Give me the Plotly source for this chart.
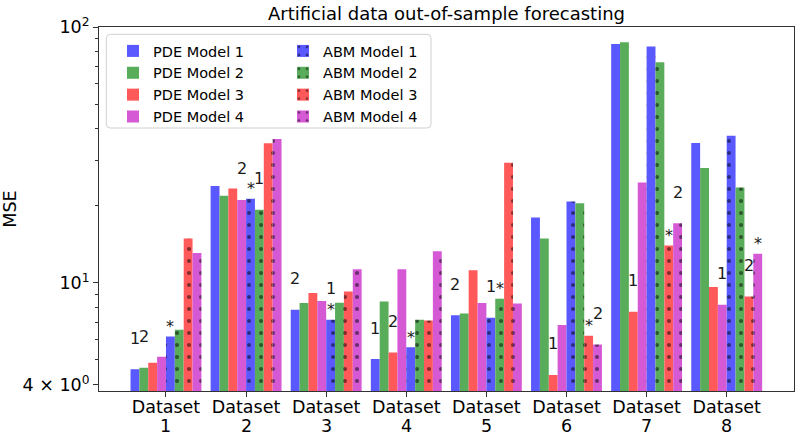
import plotly.graph_objects as go
import math

# ---------------- data ----------------
dataset_word = ["Dataset"] * 8
dataset_num = ["1", "2", "3", "4", "5", "6", "7", "8"]

pde_model_1 = [4.60, 23.9, 7.85, 5.04, 7.47, 18.0, 85.9, 35.2]
pde_model_2 = [4.66, 21.9, 8.35, 8.45, 7.60, 14.9, 87.1, 28.1]
pde_model_3 = [4.87, 23.4, 9.14, 5.35, 11.2, 4.37, 7.72, 9.64]
pde_model_4 = [5.15, 21.1, 8.50, 11.3, 8.35, 6.85, 24.7, 8.22]
abm_model_1 = [6.18, 21.3, 7.18, 5.61, 7.31, 20.8, 83.9, 37.6]
abm_model_2 = [6.56, 19.3, 8.37, 7.18, 8.68, 20.5, 72.9, 23.6]
abm_model_3 = [14.9, 35.1, 9.25, 7.13, 29.5, 6.21, 14.0, 8.84]
abm_model_4 = [13.1, 36.5, 11.3, 13.3, 8.30, 5.74, 17.1, 13.0]

model_names = ["PDE Model 1", "PDE Model 2", "PDE Model 3", "PDE Model 4",
               "ABM Model 1", "ABM Model 2", "ABM Model 3", "ABM Model 4"]

# rank / marker annotations: dataset index, model index, text
ann_dataset = [0, 0, 0, 1, 1, 1, 2, 2, 2, 3, 3, 3, 4, 4, 4, 5, 5, 5, 6, 6, 6, 7, 7, 7]
ann_model = [0, 1, 4, 3, 4, 5, 0, 4, 4, 0, 2, 4, 0, 4, 5, 2, 6, 7, 2, 6, 7, 3, 6, 7]
ann_text = ["1", "2", "*", "2", "*", "1", "2", "1", "*", "1", "2", "*",
            "2", "1", "*", "1", "*", "2", "1", "*", "2", "1", "2", "*"]

y_tick_vals = [4, 10, 100]
y_tick_text = ["4 × 10<sup>0</sup>", "10<sup>1</sup>", "10<sup>2</sup>"]
y_minor_vals = [5, 6, 7, 8, 9, 20, 30, 40, 50, 60, 70, 80, 90]

# ---------------- styling ----------------
colors = ["rgb(89,89,255)", "rgb(89,172,89)", "rgb(255,89,89)", "rgb(213,89,213)"]
FONT = "DejaVu Sans"
W, H = 802, 439
ML, MR, MT, MB = 99, 8, 27, 48
BARGAP = 0.115
bar_w = (1 - BARGAP) / 8

series = [pde_model_1, pde_model_2, pde_model_3, pde_model_4,
          abm_model_1, abm_model_2, abm_model_3, abm_model_4]
xs = list(range(len(dataset_word)))

pw = W - ML - MR
ph = H - MT - MB

def px_x(p):
    return (p - ML) / pw

def px_y(p):
    return (H - MB - p) / ph

fig = go.Figure()
for i, (name, vals) in enumerate(zip(model_names, series)):
    is_abm = i >= 4
    marker = dict(color=colors[i % 4], line=dict(width=0))
    if is_abm:
        marker["pattern"] = dict(shape=".", fgcolor="black", bgcolor=colors[i % 4],
                                 size=12, solidity=0.09, fillmode="overlay")
    fig.add_trace(go.Bar(
        x=xs, y=vals, name=name, marker=marker,
        legend="legend2" if is_abm else "legend",
    ))

# annotations above bars
for d, m, t in zip(ann_dataset, ann_model, ann_text):
    val = series[m][d]
    xpos = d + (m - 3.5) * bar_w
    fig.add_annotation(
        x=xpos, y=math.log10(val), xref="x", yref="y", text=t, showarrow=False,
        yanchor="middle", xanchor="center",
        yshift=(10 if t == "*" else 31),
        font=dict(family=FONT, size=16, color="#1a1a1a"),
    )

# second line of the x tick labels (dataset numbers)
for x, n in zip(xs, dataset_num):
    fig.add_annotation(
        x=x, y=px_y(426), xref="x", yref="paper", text=n, showarrow=False,
        yanchor="middle", xanchor="center",
        font=dict(family=FONT, size=17.5, color="black"),
    )

# legend frame (rounded)
x0, x1, y0, y1, r = 106.3, 431.0, 34.3, 128.0, 4.0
path = (f"M {px_x(x0 + r)},{px_y(y0)} L {px_x(x1 - r)},{px_y(y0)} "
        f"Q {px_x(x1)},{px_y(y0)} {px_x(x1)},{px_y(y0 + r)} "
        f"L {px_x(x1)},{px_y(y1 - r)} Q {px_x(x1)},{px_y(y1)} {px_x(x1 - r)},{px_y(y1)} "
        f"L {px_x(x0 + r)},{px_y(y1)} Q {px_x(x0)},{px_y(y1)} {px_x(x0)},{px_y(y1 - r)} "
        f"L {px_x(x0)},{px_y(y0 + r)} Q {px_x(x0)},{px_y(y0)} {px_x(x0 + r)},{px_y(y0)} Z")
fig.add_shape(type="path", path=path, xref="paper", yref="paper",
              line=dict(color="#d0d0d0", width=1), fillcolor="rgba(255,255,255,0.8)",
              layer="above")

legend_common = dict(
    font=dict(family=FONT, size=14.5, color="black"),
    bgcolor="rgba(0,0,0,0)", borderwidth=0,
    xanchor="left", yanchor="top", tracegroupgap=0, itemsizing="constant",
)

fig.update_layout(
    width=W, height=H,
    margin=dict(l=ML, r=MR, t=MT, b=MB, pad=0, autoexpand=False),
    paper_bgcolor="white", plot_bgcolor="white",
    barmode="group", bargap=BARGAP, bargroupgap=0,
    font=dict(family=FONT, color="black"),
    title=dict(text="Artificial data out-of-sample forecasting",
               font=dict(family=FONT, size=18, color="black"),
               x=0.5, xref="paper", xanchor="center",
               y=1 - 14 / H, yref="container", yanchor="middle"),
    legend=dict(x=px_x(113), y=px_y(35), **legend_common),
    legend2=dict(x=px_x(283), y=px_y(35), **legend_common),
    showlegend=True,
)

fig.update_xaxes(
    range=[-0.836, 7.84], tickmode="array", tickvals=xs, ticktext=dataset_word,
    ticks="outside", ticklen=5, tickcolor="#333", tickwidth=1,
    ticklabelstandoff=-5,
    showline=True, linecolor="#333", linewidth=1, mirror=True,
    showgrid=False, zeroline=False, automargin=False,
    tickfont=dict(family=FONT, size=17.5, color="black"),
)
fig.update_yaxes(
    type="log", range=[0.5776, 2.0],
    tickmode="array", tickvals=y_tick_vals, ticktext=y_tick_text,
    ticks="outside", ticklen=5, tickcolor="#333", tickwidth=1,
    minor=dict(tickmode="array", tickvals=y_minor_vals, ticks="outside",
               ticklen=3, tickcolor="#333", tickwidth=1, showgrid=False),
    showline=True, linecolor="#333", linewidth=1, mirror=True,
    showgrid=False, zeroline=False, automargin=False,
    tickfont=dict(family=FONT, size=17.5, color="black"),
    title=dict(text="MSE", font=dict(family=FONT, size=17.5, color="black"), standoff=5),
)

fig.write_html("out.html")
